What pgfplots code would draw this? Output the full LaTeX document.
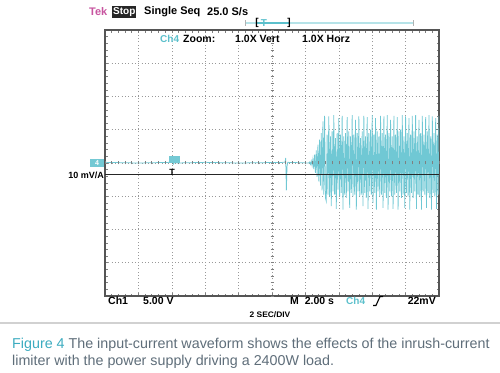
\documentclass[border=0pt]{standalone}
\usepackage{pgfplots}
\pgfplotsset{compat=1.18}
\usepackage{fontspec}
\setmainfont{Liberation Sans}
\definecolor{trace}{RGB}{92,192,204}
\definecolor{tracelt}{RGB}{112,200,212}
\definecolor{tekpink}{RGB}{200,85,160}
\definecolor{capgray}{RGB}{95,110,122}
\definecolor{figcyan}{RGB}{60,172,192}
\definecolor{framegray}{RGB}{85,85,85}
\begin{document}
\begin{tikzpicture}[x=1pt,y=1pt]
\path[use as bounding box, fill=white] (0,0) rectangle (500,372);
\begin{axis}[at={(105pt,76pt)}, anchor=south west, scale only axis,
  width=334pt, height=266pt,
  xmin=0, xmax=20, ymin=-4, ymax=4,
  xtick={0,2,...,20}, ytick={-4,-3,...,4},
  xticklabels={}, yticklabels={},
  grid=major,
  major grid style={black!40, line width=0.6pt, dash pattern=on 0.9pt off 2.44pt},
  minor x tick num=4, minor y tick num=4,
  tick pos=both, tick align=inside,
  major tick length=3pt, minor tick length=2.5pt,
  every tick/.style={black!50, line width=0.6pt},
  axis line style={framegray, line width=1.3pt},
  clip=true]
\addplot[tracelt, line width=0.75pt, no marks] table {
0.00 0.02
2.00 0.00
3.90 0.02
4.00 0.12
4.10 -0.03
4.20 0.05
4.30 0.00
6.00 0.02
8.00 0.00
10.78 0.02
10.82 0.15
10.86 -0.82
10.90 -0.10
10.94 0.02
12.20 0.00
12.25 0.03
12.30 -0.04
12.35 0.06
12.40 -0.08
12.45 0.12
12.50 -0.18
12.55 0.25
12.60 -0.30
12.65 0.38
12.70 -0.42
12.75 0.55
12.80 -0.55
12.85 0.70
12.90 -0.68
12.95 0.90
13.00 -0.82
13.05 1.25
13.10 -0.95
13.15 1.42
13.20 -1.05
13.25 -1.15
13.30 0.85
13.35 -0.95
13.40 1.40
13.45 -1.00
13.50 0.80
13.55 -1.30
13.60 0.95
13.65 -0.85
13.70 1.44
13.75 -0.95
13.80 0.75
13.85 -1.38
13.90 0.90
13.95 -0.80
14.00 1.35
14.05 -1.00
14.10 0.85
14.15 -0.90
14.20 1.42
14.25 -1.40
14.30 0.80
14.35 -0.95
14.40 0.90
14.45 -1.05
14.50 1.38
14.55 -0.85
14.60 0.95
14.65 -1.35
14.70 0.80
14.75 -0.90
14.80 1.44
14.85 -1.00
14.90 0.85
14.95 -0.95
15.00 1.30
15.05 -1.40
15.10 0.90
15.15 -0.85
15.20 1.40
15.25 -1.00
15.30 0.75
15.35 -0.95
15.40 0.95
15.45 -1.30
15.50 1.42
15.55 -0.90
15.60 0.80
15.65 -1.05
15.70 1.38
15.75 -1.38
15.80 0.90
15.85 -0.85
15.90 1.00
15.95 -0.95
16.00 1.44
16.05 -1.20
16.10 0.85
16.15 -0.90
16.20 1.35
16.25 -1.40
16.30 0.95
16.35 -0.85
16.40 0.80
16.45 -1.00
16.50 1.42
16.55 -0.95
16.60 0.90
16.65 -1.35
16.70 1.40
16.75 -0.90
16.80 0.85
16.85 -1.05
16.90 1.44
16.95 -1.40
17.00 0.90
17.05 -0.85
17.10 1.30
17.15 -1.00
17.20 0.80
17.25 -1.38
17.30 1.42
17.35 -0.95
17.40 0.85
17.45 -0.90
17.50 1.38
17.55 -1.40
17.60 0.95
17.65 -0.85
17.70 1.00
17.75 -1.05
17.80 1.44
17.85 -0.95
17.90 0.80
17.95 -1.35
18.00 1.40
18.05 -0.90
18.10 0.90
18.15 -1.00
18.20 1.35
18.25 -1.40
18.30 0.85
18.35 -0.90
18.40 1.42
18.45 -1.05
18.50 0.95
18.55 -0.85
18.60 1.44
18.65 -1.38
18.70 0.80
18.75 -0.95
18.80 1.30
18.85 -1.00
18.90 0.90
18.95 -1.40
19.00 1.42
19.05 -0.85
19.10 0.85
19.15 -0.95
19.20 1.38
19.25 -1.35
19.30 0.95
19.35 -0.90
19.40 1.44
19.45 -1.05
19.50 0.80
19.55 -1.40
19.60 1.40
19.65 -0.90
19.70 0.90
19.75 -1.00
19.80 1.35
19.85 -1.38
19.90 0.85
19.95 -0.95
20.00 1.42
};
\addplot[black!85, line width=0.8pt, no marks] coordinates {(0,-0.33) (20,-0.33)};
\end{axis}
% centre-cross minor ticks
\foreach \i in {0,...,50} {\draw[black!50, line width=0.6pt] (105+\i*6.68,207.5) -- (105+\i*6.68,210.5);}
\foreach \i in {0,...,40} {\draw[black!50, line width=0.6pt] (270.5,76+\i*6.65) -- (273.5,76+\i*6.65);}
% header
\node[anchor=west, inner sep=0pt, font=\bfseries\fontsize{11}{12}\selectfont, text=tekpink] at (89,360) {Tek};
\node[anchor=west, inner sep=1pt, fill=black!85, text=white, font=\bfseries\fontsize{10}{12}\selectfont] at (112,360) {Stop};
\node[anchor=west, inner sep=0pt, font=\bfseries\fontsize{11}{12}\selectfont] at (144,360) {Single Seq};
\node[anchor=west, inner sep=0pt, font=\bfseries\fontsize{11}{12}\selectfont] at (207,360) {25.0 S/s};
% trigger position bar
\draw[trace!45, line width=1.6pt] (245,349) -- (413,349);
\draw[black!30, line width=0.8pt] (245,346) -- (245,352) (413,346) -- (413,352);
\draw[trace, line width=1.6pt] (257,349) -- (289,349);
\node[font=\bfseries\fontsize{10}{12}\selectfont, inner sep=0pt] at (257,349) {[};
\node[font=\bfseries\fontsize{10}{12}\selectfont, inner sep=0pt, text=trace] at (264,349) {T};
\node[font=\bfseries\fontsize{10}{12}\selectfont, inner sep=0pt] at (289,349) {]};
% zoom line
\node[anchor=west, inner sep=0pt, font=\bfseries\fontsize{10}{12}\selectfont, text=trace] at (160,333) {Ch4};
\node[anchor=west, inner sep=0pt, font=\bfseries\fontsize{10.5}{12}\selectfont] at (183,333) {Zoom:};
\node[anchor=west, inner sep=0pt, font=\bfseries\fontsize{10.5}{12}\selectfont] at (235,333) {1.0X Vert};
\node[anchor=west, inner sep=0pt, font=\bfseries\fontsize{10.5}{12}\selectfont] at (302,333) {1.0X Horz};
% channel marker and scale
\node[fill=trace!85, text=white, font=\bfseries\fontsize{7}{8}\selectfont, inner sep=0pt, minimum width=14pt, minimum height=8pt] at (97,209) {4};
\node[anchor=east, inner sep=0pt, font=\bfseries\fontsize{9}{10}\selectfont] at (104,197) {10 mV/A};
% trigger marker
\node[fill=trace!85, inner sep=0pt, minimum width=11pt, minimum height=7pt] at (174,212.5) {};
\node[inner sep=0pt, font=\bfseries\fontsize{9}{10}\selectfont] at (172,200) {T};
% bottom readouts
\node[anchor=west, inner sep=0pt, font=\bfseries\fontsize{10.5}{12}\selectfont] at (108,71) {Ch1};
\node[anchor=west, inner sep=0pt, font=\bfseries\fontsize{10.5}{12}\selectfont] at (143,71) {5.00 V};
\node[anchor=west, inner sep=0pt, font=\bfseries\fontsize{10.5}{12}\selectfont] at (290,71) {M\ \ 2.00 s};
\node[anchor=west, inner sep=0pt, font=\bfseries\fontsize{10}{12}\selectfont, text=trace] at (346,71) {Ch4};
\draw[black, line width=1.1pt] (373,66.5) -- (376,66.5) -- (380,75.5) -- (383,75.5);
\node[anchor=east, inner sep=0pt, font=\bfseries\fontsize{10.5}{12}\selectfont] at (436,71) {22mV};
\node[inner sep=0pt, font=\bfseries\fontsize{8}{10}\selectfont, xscale=1.05] at (270,57) {2 SEC/DIV};
% separator and caption
\draw[black!18, line width=1.3pt] (0,49) -- (500,49);
\node[anchor=base west, inner sep=0pt, font=\fontsize{14.3}{16}\selectfont, text=capgray] at (12,24) {\textcolor{figcyan}{Figure 4} The input-current waveform shows the effects of the inrush-current};
\node[anchor=base west, inner sep=0pt, font=\fontsize{14.3}{16}\selectfont, text=capgray] at (12,7) {limiter with the power supply driving a 2400W load.};
\end{tikzpicture}
\end{document}
